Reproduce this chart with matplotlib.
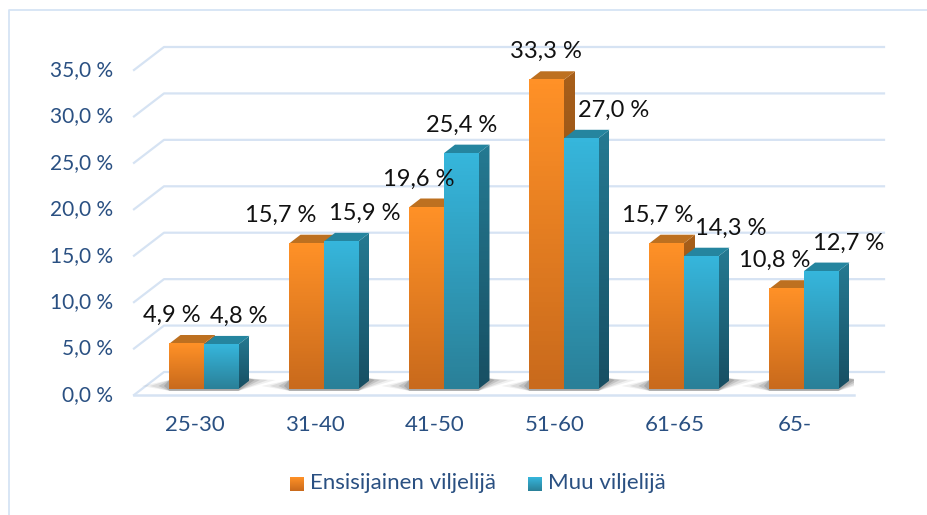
import numpy as np
import matplotlib
matplotlib.use("Agg")
import matplotlib.pyplot as plt
from matplotlib.colors import LinearSegmentedColormap as LSC
from matplotlib.patches import Polygon

plt.rcParams['font.family'] = ['Lato', 'DejaVu Sans']

categories = ['25-30', '31-40', '41-50', '51-60', '61-65', '65-']
ensisijainen = [4.9, 15.7, 19.6, 33.3, 15.7, 10.8]
muu = [4.8, 15.9, 25.4, 27.0, 14.3, 12.7]
yticks = [0, 5, 10, 15, 20, 25, 30, 35]

W, H = 928, 515
# front plane of the 3d box, in pixels
left, right, bottom, top = 134, 854, 395, 70
px_x = 6 / (right - left)          # data units per pixel
px_y = 35 / (bottom - top)

fig = plt.figure(figsize=(W / 100, H / 100), dpi=100)
bg = fig.add_axes([0, 0, 1, 1])
bg.set_axis_off()
# only the top and left edge of the frame are in the picture
bg.plot([928, 9, 9], [10, 10, 515], color='#D6E4F5', lw=1.3)

ax = fig.add_axes([left / W, 1 - bottom / H, (right - left) / W, (bottom - top) / H])
ax.patch.set_alpha(0)
ax.set_axis_off()

depth_x, depth_y = 30 * px_x, 23 * px_y
grid = '#D6E3F3'
x0, x1 = -0.5, 5.5
for t in yticks:
    ax.plot([x0, x0 + depth_x, x1 + depth_x], [t, t + depth_y, t + depth_y],
            color=grid, lw=1.6, clip_on=False, zorder=1)
ax.plot([x0, x1], [0, 0], color=grid, lw=1.8, clip_on=False, zorder=1)


def gradient(cols):
    return LSC.from_list('g', cols)


# colours: top to bottom of each face
faces = {
    'o': dict(front=['#FF9127', '#C96A1C'], side=['#A85F1A', '#7C4514'], top='#BD7020'),
    'b': dict(front=['#36B6DC', '#2A8098'], side=['#257A92', '#174F63'], top='#25859F'),
}
bw = 34.5 * px_x
off_x, off_y = 10 * px_x, 6 * px_y
bd_x, bd_y = 11 * px_x, 8.5 * px_y
ramp = np.linspace(0, 1, 64).reshape(-1, 1)


def bar3d(xl, v, c, z):
    f = faces[c]
    xl = xl + off_x
    y0 = off_y
    y1 = v + off_y
    xr = xl + bw
    # side face is a gradient clipped to a parallelogram
    im = ax.imshow(ramp, extent=[xr, xr + bd_x, y0, y1 + bd_y], cmap=gradient(f['side']),
                   aspect='auto', zorder=z)
    clip = Polygon([(xr, y0), (xr + bd_x, y0 + bd_y), (xr + bd_x, y1 + bd_y), (xr, y1)],
                   transform=ax.transData, fc='none', ec='none')
    ax.add_patch(clip)
    im.set_clip_path(clip)
    ax.add_patch(Polygon([(xl, y1), (xr, y1), (xr + bd_x, y1 + bd_y), (xl + bd_x, y1 + bd_y)],
                         fc=f['top'], ec='none', zorder=z, clip_on=False))
    ax.imshow(ramp, extent=[xl, xr, y0, y1], cmap=gradient(f['front']), aspect='auto', zorder=z + 0.1)


for i in range(len(categories)):
    xl = i - bw
    # soft shadow on the floor, wider layers are fainter
    sl = xl + off_x
    sr = sl + 2 * bw + bd_x
    for k, a in zip([1.0, 0.7, 0.4, 0.2], [0.08, 0.12, 0.16, 0.2]):
        ax.add_patch(Polygon([(sl, off_y - 0.2), (sr - bd_x, off_y - 0.2),
                              (sr + 26 * k * px_x, off_y + 9 * px_y),
                              (sr, off_y + bd_y + 2 * px_y),
                              (sl, off_y + 9 * px_y),
                              (sl - 28 * k * px_x, off_y + 3 * px_y)],
                             fc='#444444', ec='none', alpha=a, zorder=1.5))
    bar3d(xl, ensisijainen[i], 'o', 2)
    bar3d(xl + bw, muu[i], 'b', 3)

ax.set_xlim(x0, x1)
ax.set_ylim(0, 35)

# data labels sit at fixed offsets from the top of the bar, in pixels
dx_o = [-15, -26, -8, -1, -9, -12]
dx_b = [18, 24, 0, 32, 30, 27]
for i in range(len(categories)):
    for v, sign, dx in ((ensisijainen[i], -1, dx_o[i]), (muu[i], 1, dx_b[i])):
        s = f"{v:.1f} %".replace('.', ',')
        ax.annotate(s, (i + off_x + sign * bw / 2, v + off_y), xytext=(dx * 0.72, 28 * 0.72),
                    textcoords='offset points', ha='center', va='center',
                    fontsize=17, color='#111111', zorder=6, annotation_clip=False)

blue = '#2A5082'
for t in yticks:
    ax.annotate(f"{t:.1f} %".replace('.', ','), (x0, t), xytext=(-21 * 0.72, 0),
                textcoords='offset points', ha='right', va='center',
                fontsize=15, color=blue, annotation_clip=False)
for i, c in enumerate(categories):
    ax.annotate(c, (i, 0), xytext=(1 * 0.72, -30 * 0.72), textcoords='offset points',
                ha='center', va='center', fontsize=16, color=blue, annotation_clip=False)

# legend by hand because of the gradient swatches
for x, cols, name in ((290, faces['o']['front'], 'Ensisijainen viljelijä'),
                      (528, faces['b']['front'], 'Muu viljelijä')):
    bg.imshow(ramp, extent=[x, x + 14, 491, 477], cmap=gradient(cols), aspect='auto')
    bg.text(x + 20, 483, name, fontsize=16, color=blue, va='center', ha='left')
bg.set_xlim(0, W)
bg.set_ylim(H, 0)

fig.savefig('out.png', dpi=100)
